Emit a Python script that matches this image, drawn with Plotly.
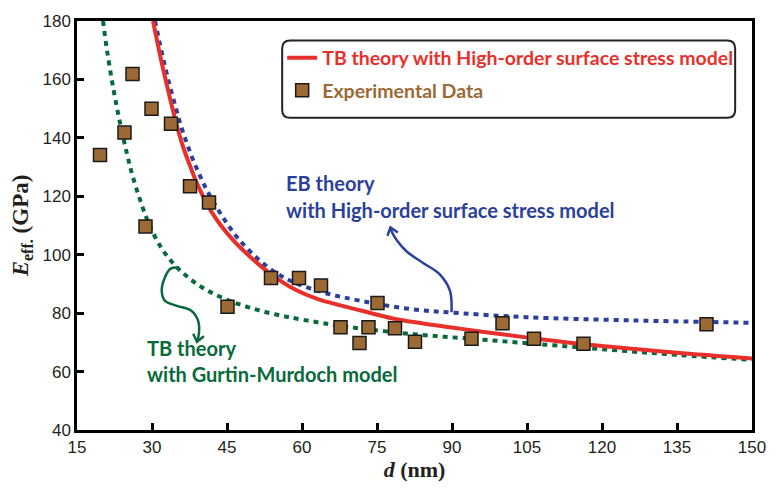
import math
import plotly.graph_objects as go

# ---------------- data ----------------
exp_d = [19.6, 24.5, 26.1, 28.7, 29.9, 33.8, 37.6, 41.4, 45.1, 53.8, 59.4, 63.8,
         67.7, 71.5, 73.3, 75.1, 78.6, 82.6, 93.9, 100.1, 106.4, 116.3, 140.9]
exp_E = [134.1, 141.8, 161.9, 109.7, 150.0, 144.8, 123.4, 117.9, 82.2, 92.0, 92.0, 89.5,
         75.2, 69.8, 75.2, 83.5, 74.8, 70.2, 71.2, 76.5, 71.2, 69.5, 76.2]

tb_hos_d = [30.2, 31.1, 32.1, 33.4, 34.4, 35.4, 36.5, 37.7, 39.1, 42.0, 46.0, 50.0, 53.9,
            58.6, 63.2, 71.8, 78.4, 91.6, 104.8, 115.0, 126.6, 138.0, 150.0]
tb_hos_E = [180.0, 172.5, 164.5, 155.0, 148.0, 141.5, 135.5, 130.0, 124.0, 114.4, 105.4, 98.7, 93.2,
            88.1, 84.8, 80.9, 78.1, 74.7, 71.7, 69.6, 67.7, 66.0, 64.5]

eb_hos_d = [30.6, 31.6, 32.6, 33.6, 34.9, 35.9, 37.0, 38.2, 39.6, 41.0, 44.0, 47.3, 52.6,
            57.9, 64.5, 71.8, 81.7, 91.6, 104.8, 126.6, 150.0]
eb_hos_E = [180.0, 172.0, 164.5, 157.5, 149.5, 143.5, 138.0, 132.5, 127.0, 122.0, 113.3, 105.4, 96.5,
            90.9, 87.0, 84.2, 81.4, 80.0, 78.6, 77.5, 76.7]

tb_gm_d = [20.2, 21.0, 22.2, 23.5, 25.0, 26.2, 28.8, 30.5, 32.4, 34.8, 37.4, 40.7, 44.7,
           49.3, 54.6, 60.0, 69.1, 82.3, 95.6, 108.8, 122.0, 135.2, 150.0]
tb_gm_E = [180.0, 170.0, 157.5, 146.0, 134.5, 126.5, 113.0, 106.5, 101.0, 96.0, 92.0, 88.1, 84.8,
           82.0, 79.6, 77.8, 75.3, 72.8, 71.0, 69.2, 67.4, 65.7, 64.0]

x_ticks = [15, 30, 45, 60, 75, 90, 105, 120, 135, 150]
y_ticks = [40, 60, 80, 100, 120, 140, 160, 180]

# annotation arrow paths (data coordinates), last point = arrow tip
blue_arrow_d = [89.9, 89.6, 87.6, 84.3, 81.0, 79.0, 78.0, 77.7]
blue_arrow_E = [80.3, 87.6, 93.2, 97.1, 101.0, 104.9, 107.7, 109.3]
green_arrow_d = [35.4, 33.8, 32.6, 31.95, 32.6, 35.0, 37.8, 39.2, 39.4, 39.0]
green_arrow_E = [95.6, 95.3, 92.3, 87.6, 84.2, 82.5, 80.9, 77.5, 73.2, 70.2]

RED = "#e8302a"
BLUE = "#2c3f9c"
GREEN = "#08693a"
BROWN = "#9b6a35"
TXT_FONT = "Lato"
TXT_SIZE = 20

# plot geometry (pixels) used for arrowhead drawing
X0PX, X1PX, Y0PX, Y1PX = 77, 758, 432, 14
XR, YR = (15, 150), (40, 180)
sx = (X1PX - X0PX) / (XR[1] - XR[0])
sy = (Y0PX - Y1PX) / (YR[1] - YR[0])


def chevron(ds, Es, arm=9.0, ang=38.0):
    """Open V arrowhead at the last point, aligned with the last segment."""
    tx, ty = ds[-1] * sx, -Es[-1] * sy
    bx, by = ds[-2] * sx, -Es[-2] * sy
    vx, vy = bx - tx, by - ty
    n = math.hypot(vx, vy)
    vx, vy = vx / n, vy / n
    pts = []
    for s in (1, -1):
        a = math.radians(ang * s)
        rx = vx * math.cos(a) - vy * math.sin(a)
        ry = vx * math.sin(a) + vy * math.cos(a)
        pts.append(((tx + arm * rx) / sx, -(ty + arm * ry) / sy))
    return ([pts[0][0], ds[-1], pts[1][0]], [pts[0][1], Es[-1], pts[1][1]])


fig = go.Figure()

fig.add_trace(go.Scatter(x=tb_gm_d, y=tb_gm_E, mode="lines", line_shape="spline",
                         line=dict(color=GREEN, width=4, dash="5px,5px"), showlegend=False))
fig.add_trace(go.Scatter(x=eb_hos_d, y=eb_hos_E, mode="lines", line_shape="spline",
                         line=dict(color=BLUE, width=4, dash="5px,5px"), showlegend=False))
fig.add_trace(go.Scatter(x=tb_hos_d, y=tb_hos_E, mode="lines", line_shape="spline",
                         line=dict(color=RED, width=4), legendgroup="a",
                         name=f"<span style='color:{RED}'><b>TB theory with High-order surface stress model</b></span>"))
fig.add_trace(go.Scatter(x=exp_d, y=exp_E, mode="markers", legendgroup="b",
                         marker=dict(symbol="square", size=13, color=BROWN,
                                     line=dict(color="#1a1a1a", width=1.5)),
                         name=f"<span style='color:{BROWN}'><b>Experimental Data</b></span>"))

# curved annotation arrows
for ds, Es, col in ((blue_arrow_d, blue_arrow_E, BLUE), (green_arrow_d, green_arrow_E, GREEN)):
    fig.add_trace(go.Scatter(x=ds, y=Es, mode="lines", line_shape="spline",
                             line=dict(color=col, width=2.5), showlegend=False, hoverinfo="skip"))
    hx, hy = chevron(ds, Es)
    fig.add_trace(go.Scatter(x=hx, y=hy, mode="lines",
                             line=dict(color=col, width=2.5), showlegend=False, hoverinfo="skip"))

# text annotations
def label(x, y, txt, color):
    fig.add_annotation(x=x, y=y, xref="x", yref="y", text=f"<b>{txt}</b>", showarrow=False,
                       xanchor="left", yanchor="middle",
                       font=dict(family=TXT_FONT, size=TXT_SIZE, color=color))

label(56.4, 124.6, "EB theory", BLUE)
label(56.4, 115.4, "with High-order surface stress model", BLUE)
label(28.6, 68.1, "TB theory", GREEN)
label(28.6, 59.1, "with Gurtin-Murdoch model", GREEN)

# rounded legend box (paper coords)
W, H = float(X1PX - X0PX), float(Y0PX - Y1PX)
def px(xp): return (xp - X0PX) / W
def py(yp): return (Y0PX - yp) / H
x0, x1, y0, y1, r = 284, 741, 34, 113, 8
path = (f"M {px(x0+r)},{py(y0)} L {px(x1-r)},{py(y0)} Q {px(x1)},{py(y0)} {px(x1)},{py(y0+r)} "
        f"L {px(x1)},{py(y1-r)} Q {px(x1)},{py(y1)} {px(x1-r)},{py(y1)} "
        f"L {px(x0+r)},{py(y1)} Q {px(x0)},{py(y1)} {px(x0)},{py(y1-r)} "
        f"L {px(x0)},{py(y0+r)} Q {px(x0)},{py(y0)} {px(x0+r)},{py(y0)} Z")
fig.add_shape(type="path", path=path, xref="paper", yref="paper",
              line=dict(color="#222222", width=2), fillcolor="rgba(255,255,255,0)", layer="above")

axis_common = dict(showline=True, linecolor="black", linewidth=2.5, mirror=True,
                   ticks="inside", ticklen=7, tickwidth=2.5, tickcolor="black",
                   showgrid=False, zeroline=False,
                   tickfont=dict(family="Liberation Sans", size=17, color="#231f20"))

fig.update_xaxes(range=list(XR), tickvals=x_ticks, ticktext=[str(v) for v in x_ticks],
                 title=dict(text="<b><i>d</i> (nm)</b>", standoff=6,
                            font=dict(family="Liberation Serif", size=22, color="#231f20")),
                 **axis_common)
fig.update_yaxes(range=list(YR), tickvals=y_ticks, ticktext=[str(v) for v in y_ticks],
                 title=dict(text="<b><i>E</i><sub>eff.</sub> (GPa)</b>", standoff=8,
                            font=dict(family="Liberation Serif", size=23, color="#231f20")),
                 **axis_common)

fig.update_layout(
    width=778, height=491,
    margin=dict(l=77, r=20, t=14, b=59),
    plot_bgcolor="white", paper_bgcolor="white",
    legend=dict(x=px(284), y=py(32), xanchor="left", yanchor="top",
                bgcolor="rgba(0,0,0,0)", borderwidth=0, tracegroupgap=4,
                font=dict(family=TXT_FONT, size=19.5)),
)

fig.write_html("out.html")
